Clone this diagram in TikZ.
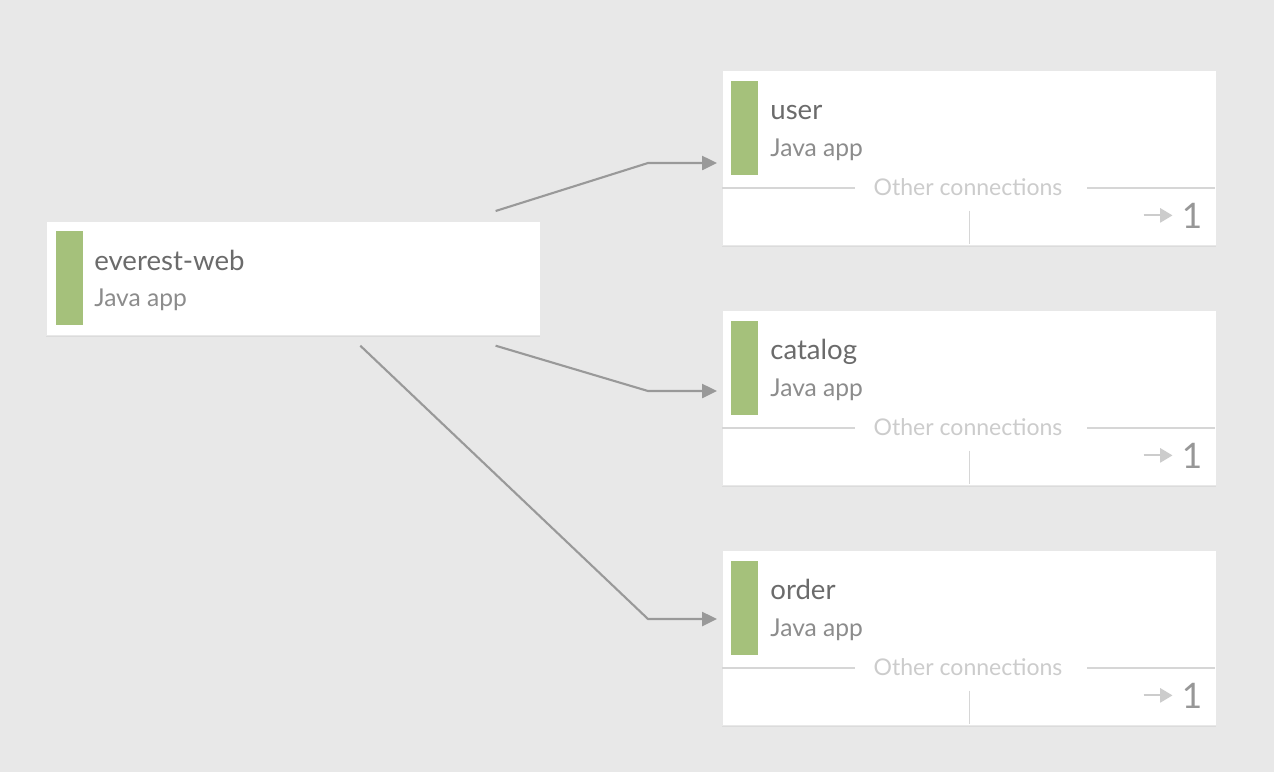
\documentclass[tikz,border=0pt]{standalone}
\usepackage{fontspec}
\setmainfont{Lato}
\usetikzlibrary{arrows.meta,calc,positioning,shadows}

\definecolor{bggray}{HTML}{E8E8E8}
\definecolor{appgreen}{HTML}{A5C17B}
\definecolor{titlegray}{HTML}{6B6B6B}
\definecolor{kindgray}{HTML}{8C8C8C}
\definecolor{faintgray}{HTML}{CCCCCC}
\definecolor{conngray}{HTML}{999999}

\begin{document}
\begin{tikzpicture}[x=0.02cm,y=-0.02cm,
  app/.style={draw=black!9,fill=white,inner sep=0pt,minimum width=9.88cm,
    drop shadow={shadow xshift=0pt,shadow yshift=-1pt,opacity=0.12}},
  bar/.style={fill=appgreen,inner sep=0pt,minimum width=0.54cm,minimum height=1.88cm,anchor=north west},
  title/.style={text=titlegray,font=\fontsize{15.7}{18}\selectfont,inner sep=0pt,anchor=base west},
  kind/.style={text=kindgray,font=\fontsize{14}{16}\selectfont,inner sep=0pt,anchor=base west},
  other/.style={text=faintgray,font=\fontsize{13.1}{16}\selectfont,inner sep=0pt,anchor=base},
  count/.style={text=kindgray!90,font=\fontsize{20}{24}\selectfont,inner sep=0pt,anchor=base east},
  rule/.style={draw=faintgray!80,line width=0.6pt},
  conn/.style={draw=conngray,line width=1.2pt,-{Triangle[length=8.5pt,width=8pt]}},
  more/.style={draw=faintgray,line width=1.2pt,-{Triangle[length=7pt,width=8pt]}},
]

% background
\fill[bggray] (0,0) rectangle (1274,772);
\useasboundingbox (0,0) rectangle (1274,772);

% the calling app
\node[app,minimum height=2.28cm,anchor=north west] (web) at (46,221) {};
\node[bar] (web-bar) at ($(web.north west)+(10,10)$) {};
\node[title] (web-title) at ($(web.north west)+(48,49)$) {everest-web};
\node[kind] (web-kind) at ($(web.north west)+(48,85)$) {Java app};

% the called apps
\foreach \name/\top/\iny in {user/70/93,catalog/310/81,order/550/69}{
  \node[app,minimum height=3.5cm,anchor=north west] (\name) at (722,\top) {};
  \node[bar] (\name-bar) at ($(\name.north west)+(9,11)$) {};
  \node[title] (\name-title) at ($(\name.north west)+(48,49)$) {\name};
  \node[kind] (\name-kind) at ($(\name.north west)+(48,86)$) {Java app};
  \node[other] (\name-other) at ($(\name.north west)+(246,125)$) {Other connections};
  \draw[rule] ($(\name.north west)+(0,118)$) -- ($(\name.north west)+(133,118)$);
  \draw[rule] ($(\name.north west)+(365,118)$) -- ($(\name.north east)+(-2,118)$);
  \draw[rule] ($(\name.south)+(0,-35)$) -- ($(\name.south)+(0,-2)$);
  \node[count] (\name-count) at ($(\name.north east)+(-14,158)$) {1};
  \draw[more] ($(\name-count.west)+(-38,0)$) -- ($(\name-count.west)+(-9,0)$);
  \coordinate (\name-in) at ($(\name.north west)+(-5,\iny)$);
}

% the connections
\draw[conn] ($(web.north east)+(-45,-10)$) -- ($(user-in)+(-69,0)$) -- (user-in);
\draw[conn] ($(web.south east)+(-45,10)$) -- ($(catalog-in)+(-69,0)$) -- (catalog-in);
\draw[conn] ($(web.south)+(67,10)$) -- ($(order-in)+(-69,0)$) -- (order-in);
\end{tikzpicture}
\end{document}
